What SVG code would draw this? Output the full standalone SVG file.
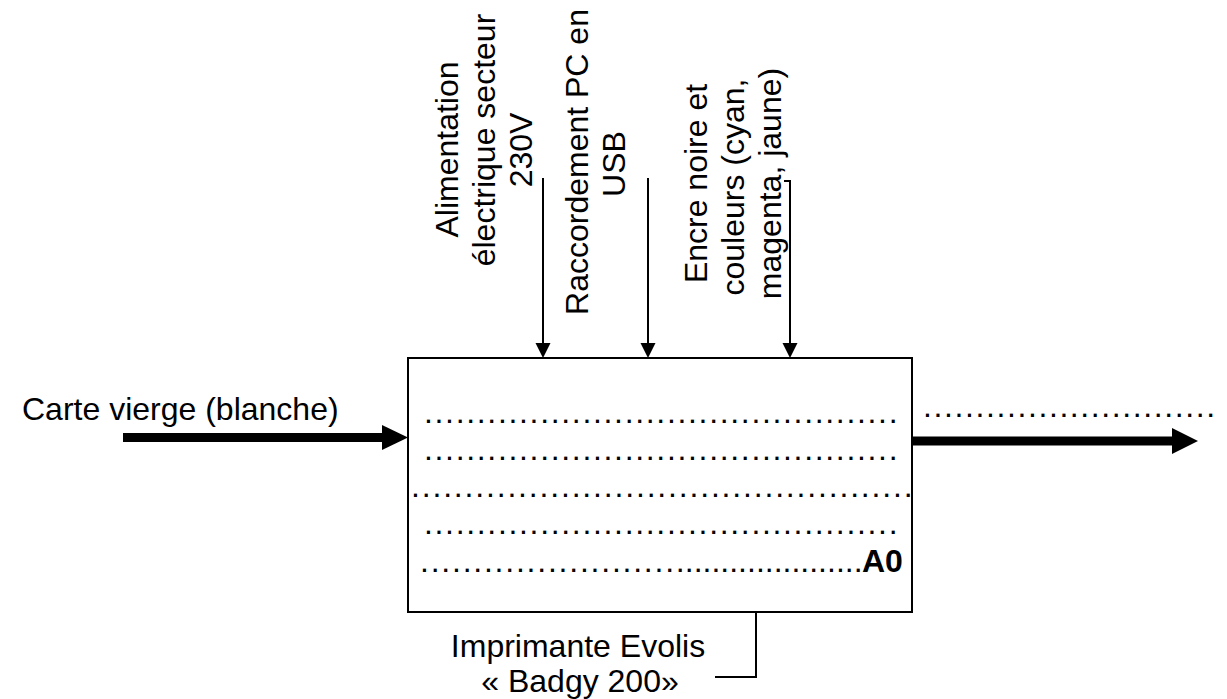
<svg xmlns="http://www.w3.org/2000/svg" width="1227" height="699" viewBox="0 0 1227 699">
<style>
  text { font-family: "Liberation Sans", Arial, sans-serif; font-size: 32px; fill: #000; }
  .dots { letter-spacing: 1.67px; }
  .bold { font-weight: bold; }
  .conn { stroke: #000; stroke-width: 2; fill: none; }
  .thick { stroke: #000; stroke-width: 9; fill: none; }
  .head { fill: #000; stroke: none; }
</style>
<rect width="1227" height="699" fill="#fff"/>

<g id="connectors">
  <line class="conn" x1="543" y1="178" x2="543" y2="345"/>
  <polygon class="head" points="535.5,343 550.5,343 543,358"/>
  <line class="conn" x1="648" y1="178" x2="648" y2="345"/>
  <polygon class="head" points="640.5,343 655.5,343 648,358"/>
  <polyline class="conn" points="784,181 790,181 790,345"/>
  <polygon class="head" points="782.5,343 797.5,343 790,358"/>
  <line class="thick" x1="123" y1="437.5" x2="385" y2="437.5"/>
  <polygon class="head" points="382,425 408,437.5 382,450"/>
  <line class="thick" x1="912" y1="441" x2="1175" y2="441"/>
  <polygon class="head" points="1172,428 1198,441 1172,454"/>
  <polyline class="conn" points="756,612 756,677 715,677"/>
</g>

<g id="node-a0">
  <rect x="408" y="358" width="504" height="254" fill="#fff" stroke="#000" stroke-width="2"/>
  <text class="dots" x="424" y="422.5">.............................................</text>
  <text class="dots" x="424" y="459.5">.............................................</text>
  <text x="411" y="496.5" style="letter-spacing:1.82px">...............................................</text>
  <text class="dots" x="424" y="533.5">.............................................</text>
  <text x="420" y="572"><tspan style="letter-spacing:1.77px">........................</tspan><tspan style="letter-spacing:0px">.....................</tspan></text>
  <text class="bold" x="862" y="572">A0</text>
</g>

<g id="label-input">
  <text x="22" y="419.5">Carte vierge (blanche)</text>
</g>

<g id="label-output">
  <text x="923" y="416.5" style="letter-spacing:1.6px">............................</text>
</g>

<g id="label-energy">
  <text text-anchor="middle" transform="translate(458,149.5) rotate(-90)">Alimentation</text>
  <text text-anchor="middle" transform="translate(495,140) rotate(-90)">électrique secteur</text>
  <text text-anchor="middle" transform="translate(532,150) rotate(-90)">230V</text>
</g>

<g id="label-pc">
  <text text-anchor="middle" transform="translate(588,162) rotate(-90)">Raccordement PC en</text>
  <text text-anchor="middle" transform="translate(625,164) rotate(-90)">USB</text>
</g>

<g id="label-ink">
  <text text-anchor="middle" transform="translate(707,183.5) rotate(-90)">Encre noire et</text>
  <text text-anchor="middle" transform="translate(744,187) rotate(-90)">couleurs (cyan,</text>
  <text text-anchor="middle" transform="translate(781,183.5) rotate(-90)">magenta, jaune)</text>
</g>

<g id="label-mechanism">
  <text text-anchor="middle" x="578" y="657">Imprimante Evolis</text>
  <text text-anchor="middle" x="580" y="692">« Badgy 200»</text>
</g>
</svg>
